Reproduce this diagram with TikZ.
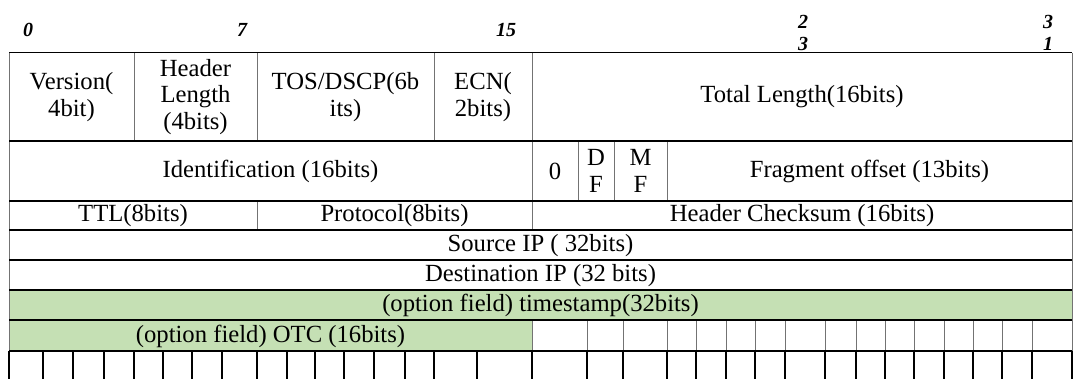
\documentclass[tikz,border=0pt]{standalone}
\usepackage{fontspec}
\setmainfont{Liberation Serif}
\usepackage{tikz}
\usetikzlibrary{calc}
\definecolor{optgreen}{HTML}{C5E0B4}
\tikzset{
	field/.style={font=\fontsize{18.5}{20}\selectfont, align=center, inner sep=0pt},
	bitno/.style={font=\fontsize{15}{17}\selectfont\bfseries\itshape, align=center, inner sep=0pt},
	rowline/.style={line width=1pt, black},
	cellline/.style={line width=0.6pt, black!55},
	bitline/.style={line width=1.1pt, black}
}

\begin{document}
\begin{tikzpicture}[x=0.75pt, y=-0.75pt]
	\useasboundingbox (0,0) rectangle (1073,379);
	\fill[optgreen] (9,290) rectangle (1072,320);
	\fill[optgreen] (9,320) rectangle (532,351);
	\foreach \x in {9,134,257,434,532,1072}
		\draw[cellline] (\x,52.5) -- (\x,141);
	\foreach \x in {9,532,578,614,667,1072}
		\draw[cellline] (\x,141) -- (\x,201);
	\foreach \x in {9,257,532,1072}
		\draw[cellline] (\x,201) -- (\x,230);
	\foreach \x in {9,1072}
		\draw[cellline] (\x,230) -- (\x,320);
	\foreach \x in {9,532,587,623,667,696,726,755,785,825,856,885,914,944,973,1002,1032,1072}
		\draw[cellline] (\x,320) -- (\x,351);
	\foreach \x in {9,43,73,104,134,163,192,222,257,287,315,344,374,405,434,477,532,587,623,667,696,726,755,785,825,856,885,914,944,973,1002,1032,1072}
		\draw[bitline] (\x,351) -- (\x,379);
	\foreach \y in {52.5,141,201,230,260,290,320,351}
		\draw[rowline] (9,\y) -- (1072,\y);
	\node[bitno] (b0) at (28,30) {0};
	\node[bitno] (b7) at (242,30) {7};
	\node[bitno] (b15) at (506,30) {15};
	\node[bitno] (b23) at (803,33) {2\\3};
	\node[bitno] (b31) at (1048,33) {3\\1};
	\node[field] (ver) at (71.5,97) {Version(\\4bit)};
	\node[field] (hlen) at (195.5,97) {Header\\Length\\(4bits)};
	\node[field] (tos) at (345.5,97) {TOS/DSCP(6b\\its)};
	\node[field] (ecn) at (483,97) {ECN(\\2bits)};
	\node[field] (tlen) at (802,97) {Total Length(16bits)};
	\node[field] (ident) at (270.5,171) {Identification (16bits)};
	\node[field] (zero) at (555,171) {0};
	\node[field] (df) at (596,171) {D\\F};
	\node[field] (mf) at (640.5,171) {M\\F};
	\node[field] (frag) at (869.5,171) {Fragment offset (13bits)};
	\node[field] (ttl) at (133,216) {TTL(8bits)};
	\node[field] (proto) at (394.5,216) {Protocol(8bits)};
	\node[field] (chk) at (802,216) {Header Checksum (16bits)};
	\node[field] (src) at (540.5,245.5) {Source IP ( 32bits)};
	\node[field] (dst) at (540.5,275.5) {Destination IP (32 bits)};
	\node[field] (tstamp) at (540.5,305.5) {(option field) timestamp(32bits)};
	\node[field] (otc) at (270.5,336) {(option field) OTC (16bits)};
\end{tikzpicture}
\end{document}
